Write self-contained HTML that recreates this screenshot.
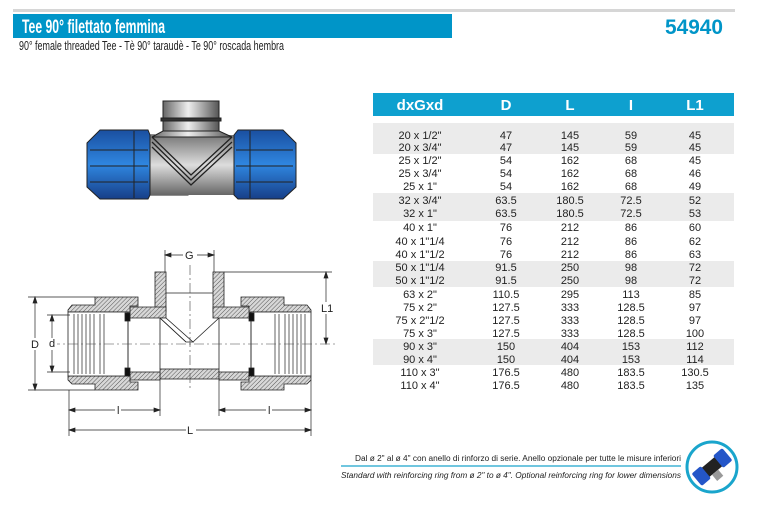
<!DOCTYPE html>
<html><head><meta charset="utf-8"><style>
html,body{margin:0;padding:0;background:#fff;}
svg{display:block;font-family:"Liberation Sans",Arial,sans-serif;}
</style></head><body>
<svg width="760" height="507" viewBox="0 0 760 507" xmlns="http://www.w3.org/2000/svg">
<defs>
<pattern id="h" width="3" height="3" patternUnits="userSpaceOnUse" patternTransform="rotate(45)">
<rect width="3" height="3" fill="#d8d8d8"/><line x1="0" y1="0" x2="0" y2="3" stroke="#555" stroke-width="1"/>
</pattern>
<linearGradient id="met" x1="0" y1="0" x2="1" y2="0">
<stop offset="0" stop-color="#666"/><stop offset="0.45" stop-color="#eee"/><stop offset="1" stop-color="#555"/>
</linearGradient>
<linearGradient id="metv" x1="0" y1="0" x2="0" y2="1">
<stop offset="0" stop-color="#777"/><stop offset="0.5" stop-color="#ddd"/><stop offset="1" stop-color="#666"/>
</linearGradient>
<linearGradient id="blu" x1="0" y1="0" x2="0" y2="1">
<stop offset="0" stop-color="#1a4fa0"/><stop offset="0.5" stop-color="#2f86e0"/><stop offset="1" stop-color="#173f88"/>
</linearGradient>
</defs>

<!-- header -->
<rect x="13" y="9" width="722" height="3" fill="#d6d6d6"/>
<rect x="13" y="14" width="439" height="24" fill="#0095c8"/>
<text x="22" y="33" font-size="19" font-weight="bold" fill="#fff" textLength="143" lengthAdjust="spacingAndGlyphs">Tee 90° filettato femmina</text>
<text x="665" y="34" font-size="21" font-weight="bold" fill="#0095c8" textLength="58" lengthAdjust="spacingAndGlyphs">54940</text>
<text x="19" y="50" font-size="13" fill="#222" textLength="265" lengthAdjust="spacingAndGlyphs">90° female threaded Tee - Tè 90° taraudè - Te 90° roscada hembra</text>

<!-- product picture -->
<g stroke="#222" stroke-width="1">
<rect x="163" y="101" width="56" height="30" fill="url(#met)"/>
<rect x="161" y="118" width="60" height="3" fill="#333"/>
<rect x="148" y="135" width="40" height="60" fill="url(#metv)"/>
<path d="M150 137 L 190 172 L 230 137 Z" fill="url(#met)"/>
<rect x="150" y="135" width="84" height="60" fill="url(#metv)" stroke="none"/>
<path d="M152 137 L191 175 L232 137" fill="none" stroke-width="1.3"/>
<path d="M152 142 L191 180 L232 142" fill="none" stroke-width="1.3"/>
<path d="M152 147 L191 185 L232 147" fill="none" stroke-width="1.3"/>
<path d="M163 131 L219 131 L232 137 L152 137 Z" fill="url(#met)"/>
<path d="M87 143 L100 130 L148 130 L150 135 L150 195 L148 199 L100 199 L87 187 Z" fill="url(#blu)"/>
<path d="M296 143 L283 130 L238 130 L234 135 L234 195 L238 199 L283 199 L296 187 Z" fill="url(#blu)"/>
<path d="M90 150 L148 150 M90 166 L148 166 M90 182 L148 182 M134 131 L134 198" fill="none"/>
<path d="M236 150 L293 150 M236 166 L293 166 M236 182 L293 182 M250 131 L250 198" fill="none"/>
</g>

<!-- technical drawing -->
<g stroke="#222" stroke-width="0.8">
<!-- branch walls -->
<rect x="155" y="272" width="11" height="40" fill="url(#h)"/>
<rect x="213" y="272" width="11" height="40" fill="url(#h)"/>
<!-- body top walls -->
<path d="M130 307 L166 307 L166 318 L130 318 Z" fill="url(#h)"/>
<path d="M213 307 L250 307 L250 318 L213 318 Z" fill="url(#h)"/>
<path d="M160 318 L186 342 L193 342 L166 318 Z" fill="#fff"/>
<line x1="160" y1="318" x2="186" y2="342"/>
<line x1="219" y1="318" x2="193" y2="342"/>
<!-- bottom wall -->
<rect x="160" y="369" width="59" height="10" fill="url(#h)"/>
<rect x="130" y="372" width="30" height="8" fill="url(#h)"/>
<rect x="219" y="372" width="30" height="8" fill="url(#h)"/>
<!-- left cap -->
<path d="M68 310 L72 305 L95 305 L95 297 L138 297 L138 306 L130 306 L130 312 L95 312 L68 312 Z" fill="url(#h)"/>
<path d="M68 376 L95 376 L130 376 L130 382 L138 382 L138 390 L95 390 L95 384 L72 384 L68 380 Z" fill="url(#h)"/>
<rect x="68" y="312" width="60" height="64" fill="#fff"/>
<g stroke-width="0.7" fill="none">
<path d="M74 314 V374 M78 314 V374 M82 314 V374 M86 314 V374 M90 314 V374 M94 314 V374"/>
<path d="M104 314 V374 M128 314 V374 M100 314 V374"/>
</g>
<rect x="125" y="313" width="5" height="8" fill="#111"/>
<rect x="125" y="368" width="5" height="8" fill="#111"/>
<!-- right cap -->
<path d="M311 310 L307 305 L284 305 L284 297 L241 297 L241 306 L249 306 L249 312 L284 312 L311 312 Z" fill="url(#h)"/>
<path d="M311 376 L284 376 L249 376 L249 382 L241 382 L241 390 L284 390 L284 384 L307 384 L311 380 Z" fill="url(#h)"/>
<rect x="251" y="312" width="60" height="64" fill="#fff"/>
<g stroke-width="0.7" fill="none">
<path d="M305 314 V374 M301 314 V374 M297 314 V374 M293 314 V374 M289 314 V374 M285 314 V374"/>
<path d="M275 314 V374 M251 314 V374 M279 314 V374"/>
</g>
<rect x="249" y="313" width="5" height="8" fill="#111"/>
<rect x="249" y="368" width="5" height="8" fill="#111"/>
<line x1="166" y1="293" x2="213" y2="293"/>
<line x1="160" y1="318" x2="160" y2="369"/>
<line x1="219" y1="318" x2="219" y2="369"/>
</g>
<!-- center lines -->
<g stroke="#444" stroke-width="0.6" stroke-dasharray="10 3 2 3">
<line x1="50" y1="344" x2="335" y2="344"/>
<line x1="190" y1="265" x2="190" y2="390"/>
</g>
<!-- dimensions -->
<g stroke="#222" stroke-width="0.7" fill="#222">
<line x1="28" y1="297" x2="95" y2="297"/><line x1="28" y1="390" x2="95" y2="390"/>
<line x1="35" y1="300" x2="35" y2="387"/>
<path d="M35 297 l-2 6 h4z M35 390 l-2 -6 h4z"/>
<line x1="47" y1="315" x2="70" y2="315"/><line x1="47" y1="372" x2="70" y2="372"/>
<line x1="52" y1="318" x2="52" y2="369"/>
<path d="M52 315 l-2 6 h4z M52 372 l-2 -6 h4z"/>
<line x1="224" y1="272" x2="332" y2="272"/>
<line x1="326" y1="275" x2="326" y2="341"/>
<path d="M326 272 l-2 6 h4z M326 344 l-2 -6 h4z"/>
<line x1="165" y1="250" x2="165" y2="272"/><line x1="214" y1="250" x2="214" y2="272"/>
<line x1="165" y1="255" x2="214" y2="255"/>
<path d="M165 255 l6 -2 v4z M214 255 l-6 -2 v4z"/>
<line x1="69" y1="390" x2="69" y2="436"/><line x1="160" y1="380" x2="160" y2="416"/>
<line x1="219" y1="380" x2="219" y2="416"/><line x1="311" y1="380" x2="311" y2="436"/>
<line x1="69" y1="410" x2="160" y2="410"/><line x1="219" y1="410" x2="311" y2="410"/>
<path d="M69 410 l6 -2 v4z M160 410 l-6 -2 v4z M219 410 l6 -2 v4z M311 410 l-6 -2 v4z"/>
<line x1="69" y1="430" x2="311" y2="430"/>
<path d="M69 430 l6 -2 v4z M311 430 l-6 -2 v4z"/>
</g>
<g font-size="11" fill="#222">
<rect x="183" y="249" width="14" height="12" fill="#fff"/><text x="185" y="259">G</text>
<rect x="320" y="302" width="14" height="12" fill="#fff"/><text x="321" y="312">L1</text>
<rect x="30" y="338" width="11" height="12" fill="#fff"/><text x="31" y="348">D</text>
<rect x="48" y="338" width="9" height="12" fill="#fff"/><text x="49" y="347">d</text>
<rect x="115" y="404" width="6" height="12" fill="#fff"/><text x="117" y="414">l</text>
<rect x="266" y="404" width="6" height="12" fill="#fff"/><text x="268" y="414">l</text>
<rect x="186" y="424" width="10" height="12" fill="#fff"/><text x="187" y="434">L</text>
</g>

<!-- table -->
<rect x="373" y="93" width="361" height="23" fill="#0ea0cf"/>
<g font-size="15" font-weight="bold" fill="#fff" text-anchor="middle">
<text x="420" y="110">dxGxd</text><text x="506" y="110">D</text><text x="570" y="110">L</text><text x="631" y="110">I</text><text x="695" y="110">L1</text>
</g>
<g fill="#ebebeb">
<rect x="373" y="123" width="361" height="31"/>
<rect x="373" y="193" width="361" height="28"/>
<rect x="373" y="261" width="361" height="26"/>
<rect x="373" y="339" width="361" height="26"/>
</g>
<g font-size="11" fill="#222" text-anchor="middle">
<g transform="translate(0,139)"><text x="420">20 x 1/2"</text><text x="506">47</text><text x="570">145</text><text x="631">59</text><text x="695">45</text></g>
<g transform="translate(0,151)"><text x="420">20 x 3/4"</text><text x="506">47</text><text x="570">145</text><text x="631">59</text><text x="695">45</text></g>
<g transform="translate(0,164)"><text x="420">25 x 1/2"</text><text x="506">54</text><text x="570">162</text><text x="631">68</text><text x="695">45</text></g>
<g transform="translate(0,177)"><text x="420">25 x 3/4"</text><text x="506">54</text><text x="570">162</text><text x="631">68</text><text x="695">46</text></g>
<g transform="translate(0,190)"><text x="420">25 x 1"</text><text x="506">54</text><text x="570">162</text><text x="631">68</text><text x="695">49</text></g>
<g transform="translate(0,204)"><text x="420">32 x 3/4"</text><text x="506">63.5</text><text x="570">180.5</text><text x="631">72.5</text><text x="695">52</text></g>
<g transform="translate(0,217)"><text x="420">32 x 1"</text><text x="506">63.5</text><text x="570">180.5</text><text x="631">72.5</text><text x="695">53</text></g>
<g transform="translate(0,231)"><text x="420">40 x 1"</text><text x="506">76</text><text x="570">212</text><text x="631">86</text><text x="695">60</text></g>
<g transform="translate(0,245)"><text x="420">40 x 1"1/4</text><text x="506">76</text><text x="570">212</text><text x="631">86</text><text x="695">62</text></g>
<g transform="translate(0,258)"><text x="420">40 x 1"1/2</text><text x="506">76</text><text x="570">212</text><text x="631">86</text><text x="695">63</text></g>
<g transform="translate(0,271)"><text x="420">50 x 1"1/4</text><text x="506">91.5</text><text x="570">250</text><text x="631">98</text><text x="695">72</text></g>
<g transform="translate(0,284)"><text x="420">50 x 1"1/2</text><text x="506">91.5</text><text x="570">250</text><text x="631">98</text><text x="695">72</text></g>
<g transform="translate(0,298)"><text x="420">63 x 2"</text><text x="506">110.5</text><text x="570">295</text><text x="631">113</text><text x="695">85</text></g>
<g transform="translate(0,311)"><text x="420">75 x 2"</text><text x="506">127.5</text><text x="570">333</text><text x="631">128.5</text><text x="695">97</text></g>
<g transform="translate(0,324)"><text x="420">75 x 2"1/2</text><text x="506">127.5</text><text x="570">333</text><text x="631">128.5</text><text x="695">97</text></g>
<g transform="translate(0,337)"><text x="420">75 x 3"</text><text x="506">127.5</text><text x="570">333</text><text x="631">128.5</text><text x="695">100</text></g>
<g transform="translate(0,350)"><text x="420">90 x 3"</text><text x="506">150</text><text x="570">404</text><text x="631">153</text><text x="695">112</text></g>
<g transform="translate(0,363)"><text x="420">90 x 4"</text><text x="506">150</text><text x="570">404</text><text x="631">153</text><text x="695">114</text></g>
<g transform="translate(0,376)"><text x="420">110 x 3"</text><text x="506">176.5</text><text x="570">480</text><text x="631">183.5</text><text x="695">130.5</text></g>
<g transform="translate(0,389)"><text x="420">110 x 4"</text><text x="506">176.5</text><text x="570">480</text><text x="631">183.5</text><text x="695">135</text></g>
</g>

<!-- footnote -->
<text x="681" y="461" font-size="8" fill="#222" text-anchor="end" textLength="326" lengthAdjust="spacingAndGlyphs">Dal ø 2" al ø 4" con anello di rinforzo di serie. Anello opzionale per tutte le misure inferiori</text>
<line x1="341" y1="466" x2="681" y2="466" stroke="#1aa5cc" stroke-width="1.2"/>
<text x="681" y="478" font-size="8" font-style="italic" fill="#222" text-anchor="end" textLength="340" lengthAdjust="spacingAndGlyphs">Standard with reinforcing ring from ø 2" to ø 4". Optional reinforcing ring for lower dimensions</text>
<circle cx="712" cy="467" r="25" fill="#fff" stroke="#1aa5cc" stroke-width="3"/>
<g transform="rotate(-40 712 467)">
<rect x="694" y="461" width="36" height="12" fill="#222"/>
<rect x="692" y="459" width="12" height="16" rx="2" fill="#2456c8"/>
<rect x="720" y="459" width="12" height="16" rx="2" fill="#2456c8"/>
<rect x="707" y="473" width="8" height="8" fill="#999"/>
</g>
</svg>
</body></html>
